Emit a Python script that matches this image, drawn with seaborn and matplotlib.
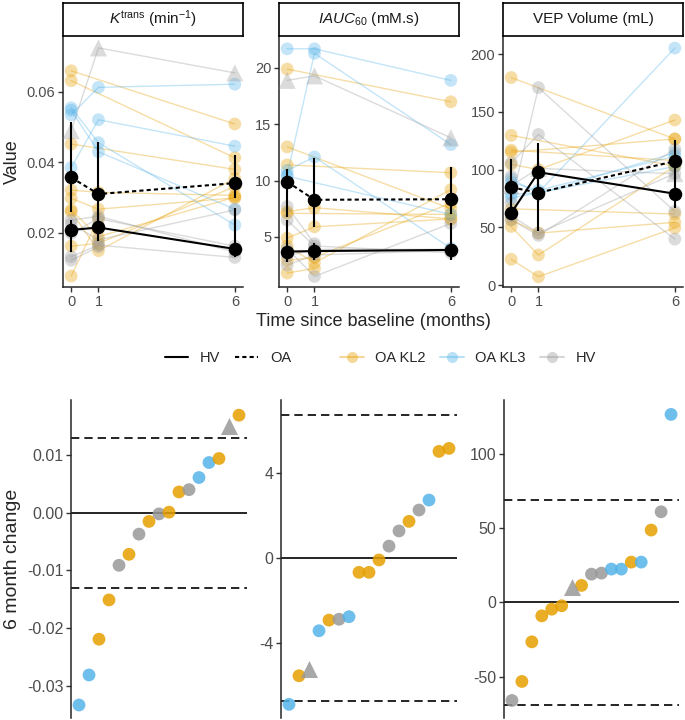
import numpy as np
import pandas as pd
import matplotlib
matplotlib.use("Agg")
import matplotlib.pyplot as plt
from matplotlib.lines import Line2D
import seaborn as sns

nan = np.nan

# ---- subjects (top panels) ----
subj_group = ['OA KL2'] * 9 + ['OA KL3'] * 4 + ['HV'] * 6
subj_shape = ['circle'] * 18 + ['triangle']

ktrans_t0 = [0.066, 0.0632, 0.0452, 0.0321, 0.0298, 0.0265, 0.0260, 0.0162, 0.0077,
             0.0535, 0.0385, 0.0555, 0.0548,
             0.0236, 0.0199, 0.0132, 0.0225, 0.0122, 0.0490]
ktrans_t1 = [nan, nan, nan, 0.0315, 0.0267, 0.0189, 0.0149, 0.0170, 0.0240,
             0.0613, 0.0521, 0.0456, 0.0430,
             0.0247, 0.0240, 0.0165, 0.0180, 0.0160, 0.0725]
ktrans_t6 = [0.0509, 0.0413, 0.0380, 0.0306, 0.0299, 0.0301, 0.0354, 0.0331, nan,
             0.0622, 0.0446, 0.0222, 0.0267,
             0.0145, 0.0162, 0.0130, 0.0265, nan, 0.0654]

iauc_t0 = [19.9, 13.0, 11.4, 7.25, 7.1, 4.9, 4.2, 2.9, 1.8,
           21.7, 10.5, 10.9, 10.4,
           6.5, 3.3, 2.5, 3.95, 7.7, 18.9]
iauc_t1 = [nan, nan, nan, 7.6, nan, 5.9, 2.7, 3.2, 2.2,
           21.7, 21.3, 12.1, nan,
           4.2, 3.9, 3.4, 1.5, 4.4, 19.3]
iauc_t6 = [17.0, 7.5, 10.7, 6.6, 7.0, 6.6, 9.2, 8.0, nan,
           18.9, 13.2, 4.0, 7.0,
           3.6, 3.9, 3.8, 6.2, nan, 13.8]

vep_t0 = [179.7, 129.6, 115.0, 116.8, 66.0, 56.5, 22.3, 104.5, 50.7,
          78.5, 92.0, 89.0, 75.4,
          105.8, 71.0, 60.0, 56.5, 94.2, 86.0]
vep_t1 = [nan, nan, nan, nan, nan, 45.0, 7.2, 100.0, 26.0,
          80.0, 79.0, 82.0, nan,
          130.4, 171.0, 45.0, 43.0, nan, 101.0]
vep_t6 = [126.5, 103.1, 126.5, 107.8, 61.5, 54.3, 49.5, 142.9, 102.9,
          205.2, 114.5, 111.6, 102.6,
          39.8, 63.7, 96.5, 117.6, nan, 96.4]

# ---- group summaries (black) ----
times = [0, 1, 6]
ktrans_hv = [0.0208, 0.0215, 0.0154]
ktrans_hv_lo = [0.0145, 0.0178, 0.0130]
ktrans_hv_hi = [0.0235, 0.0260, 0.0270]
ktrans_oa = [0.0357, 0.0310, 0.0341]
ktrans_oa_lo = [0.0260, 0.0210, 0.0300]
ktrans_oa_hi = [0.0514, 0.0457, 0.0422]

iauc_hv = [3.7, 3.75, 3.85]
iauc_hv_lo = [2.8, 3.0, 3.0]
iauc_hv_hi = [6.5, 4.5, 6.2]
iauc_oa = [9.9, 8.3, 8.35]
iauc_oa_lo = [6.8, 5.9, 7.0]
iauc_oa_hi = [11.0, 12.0, 11.2]

vep_hv = [62.3, 97.7, 79.1]
vep_hv_lo = [57.0, 72.0, 66.7]
vep_hv_hi = [80.0, 122.6, 95.0]
vep_oa = [84.6, 80.0, 107.2]
vep_oa_lo = [72.0, 46.4, 92.0]
vep_oa_hi = [109.3, 95.0, 125.5]

# ---- 6 month change (bottom panels), sorted ----
ktrans_change = [-0.0333, -0.0281, -0.0219, -0.0151, -0.0091, -0.0072, -0.0037, -0.0015, -0.0002,
                 0.0001, 0.0036, 0.0040, 0.0061, 0.0087, 0.0094, 0.0151, 0.0169]
ktrans_change_group = ['OA KL3', 'OA KL3', 'OA KL2', 'OA KL2', 'HV', 'OA KL2', 'HV', 'OA KL2', 'HV',
                       'OA KL2', 'OA KL2', 'HV', 'OA KL3', 'OA KL3', 'OA KL2', 'HV', 'OA KL2']
ktrans_change_shape = ['circle'] * 15 + ['triangle', 'circle']

iauc_change = [-6.86, -5.52, -5.20, -3.41, -2.91, -2.87, -2.75, -0.67, -0.67,
               -0.09, 0.56, 1.27, 1.72, 2.25, 2.72, 5.00, 5.14]
iauc_change_group = ['OA KL3', 'OA KL2', 'HV', 'OA KL3', 'OA KL2', 'HV', 'OA KL3', 'OA KL2', 'OA KL2',
                     'OA KL2', 'HV', 'HV', 'OA KL2', 'HV', 'OA KL3', 'OA KL2', 'OA KL2']
iauc_change_shape = ['circle', 'circle', 'triangle'] + ['circle'] * 14

vep_change = [-66.0, -53.2, -26.5, -9.0, -4.5, -2.2, 10.4, 11.5, 19.1,
              19.8, 22.5, 22.5, 27.2, 27.2, 48.8, 61.1, 126.7]
vep_change_group = ['HV', 'OA KL2', 'OA KL2', 'OA KL2', 'OA KL2', 'OA KL2', 'HV', 'OA KL2', 'HV',
                    'HV', 'OA KL3', 'OA KL3', 'OA KL2', 'OA KL3', 'OA KL2', 'HV', 'OA KL3']
vep_change_shape = ['circle'] * 6 + ['triangle'] + ['circle'] * 10

change_limits = [0.013, 6.7, 69.0]

palette = {'OA KL2': '#E69F00', 'OA KL3': '#56B4E9', 'HV': '#999999'}
markers = {'circle': 'o', 'triangle': '^'}
marker_area = {'circle': 85, 'triangle': 150}

sns.set_style('white')
plt.rcParams['font.family'] = ['Liberation Sans', 'DejaVu Sans']
plt.rcParams['mathtext.fontset'] = 'custom'
plt.rcParams['mathtext.rm'] = 'Liberation Sans'
plt.rcParams['mathtext.it'] = 'Liberation Sans:italic'
plt.rcParams['axes.linewidth'] = 1.1

W, H = 685, 720
fig = plt.figure(figsize=(W / 100, H / 100), dpi=100)


def box(x0, x1, y0, y1):
    return [x0 / W, 1 - y1 / H, (x1 - x0) / W, (y1 - y0) / H]


def long_table(t0, t1, t6):
    df = pd.DataFrame({'subject': range(len(t0)), 'group': subj_group, 'shape': subj_shape,
                       0: t0, 1: t1, 6: t6})
    df = df.melt(id_vars=['subject', 'group', 'shape'], var_name='time', value_name='value')
    df['time'] = df['time'].astype(float)
    return df.dropna(subset=['value'])


def shaped_points(df, x, y, ax, alpha, zorder=3):
    # circles and triangles drawn separately so the triangle can be a bit larger
    for shp, sub in df.groupby('shape'):
        sns.scatterplot(data=sub, x=x, y=y, hue='group', palette=palette, marker=markers[shp],
                        s=marker_area[shp], alpha=alpha, linewidth=0, legend=False, ax=ax, zorder=zorder)


top_specs = [
    (63, 243, r'$K^{\mathrm{trans}}$ (min$^{-1}$)', (ktrans_t0, ktrans_t1, ktrans_t6),
     (ktrans_hv, ktrans_hv_lo, ktrans_hv_hi, ktrans_oa, ktrans_oa_lo, ktrans_oa_hi),
     (0.0046, 0.0756), [0.02, 0.04, 0.06], ['0.02', '0.04', '0.06']),
    (279, 459, r'$\mathit{IAUC}_{\mathrm{60}}$ (mM.s)', (iauc_t0, iauc_t1, iauc_t6),
     (iauc_hv, iauc_hv_lo, iauc_hv_hi, iauc_oa, iauc_oa_lo, iauc_oa_hi),
     (0.56, 22.75), [5, 10, 15, 20], ['5', '10', '15', '20']),
    (503, 683, 'VEP Volume (mL)', (vep_t0, vep_t1, vep_t6),
     (vep_hv, vep_hv_lo, vep_hv_hi, vep_oa, vep_oa_lo, vep_oa_hi),
     (-1.7, 214.8), [0, 50, 100, 150, 200], ['0', '50', '100', '150', '200']),
]

for i, (x0, x1, title, vals, summ, ylim, yt, ytl) in enumerate(top_specs):
    ax = fig.add_axes(box(x0, x1, 37, 287))
    df = long_table(*vals)
    sns.lineplot(data=df, x='time', y='value', hue='group', units='subject', estimator=None,
                 palette=palette, alpha=0.35, lw=1.0, legend=False, ax=ax)
    shaped_points(df, 'time', 'value', ax, alpha=0.35)
    hv, hv_lo, hv_hi, oa, oa_lo, oa_hi = summ
    mean_df = pd.DataFrame({'time': times * 2, 'value': hv + oa, 'grp': ['HV'] * 3 + ['OA'] * 3})
    sns.lineplot(data=mean_df, x='time', y='value', style='grp', dashes={'HV': '', 'OA': (2, 1.5)},
                 color='black', lw=1.5, legend=False, ax=ax, zorder=5)
    for m, lo, hi in [(hv, hv_lo, hv_hi), (oa, oa_lo, oa_hi)]:
        m = np.array(m)
        ax.errorbar(times, m, yerr=[m - np.array(lo), np.array(hi) - m], fmt='none',
                    ecolor='black', elinewidth=1.5, capsize=0, zorder=6)
    sns.scatterplot(data=mean_df, x='time', y='value', color='black', s=95, linewidth=0,
                    legend=False, ax=ax, zorder=7)
    ax.set_xlim(-0.3, 6.3)
    ax.set_ylim(*ylim)
    ax.set_xticks(times)
    ax.set_xticklabels(['0', '1', '6'])
    ax.set_yticks(yt)
    ax.set_yticklabels(ytl)
    ax.tick_params(axis='both', labelsize=10.5, labelcolor='#4D4D4D', length=3.5, width=1,
                   color='#333333', left=True, bottom=True, pad=2)
    sns.despine(ax=ax)
    ax.set_xlabel('')
    ax.set_ylabel('Value' if i == 0 else '', fontsize=13)
    # facet strip
    st = fig.add_axes(box(x0, x1, 3, 36))
    st.set_xticks([])
    st.set_yticks([])
    for s in st.spines.values():
        s.set_visible(True)
        s.set_linewidth(1.2)
        s.set_color('black')
    st.text(0.5, 0.5, title, ha='center', va='center', fontsize=11, color='#1A1A1A',
            transform=st.transAxes)

fig.text(373 / W, 1 - 322 / H, 'Time since baseline (months)', ha='center', va='center', fontsize=13)

# legends
h1 = [Line2D([], [], color='black', lw=1.5),
      Line2D([], [], color='black', lw=1.5, dashes=(2, 1.5))]
fig.legend(h1, ['HV', 'OA'], loc='center', bbox_to_anchor=(228 / W, 1 - 358 / H), ncol=2,
           frameon=False, fontsize=10.5, handlelength=1.6, columnspacing=1.0, handletextpad=0.8)
h2 = [Line2D([], [], color=palette[g], lw=1.5, alpha=0.4, marker='o', markersize=8, markeredgewidth=0)
      for g in ['OA KL2', 'OA KL3', 'HV']]
fig.legend(h2, ['OA KL2', 'OA KL3', 'HV'], loc='center', bbox_to_anchor=(468 / W, 1 - 358 / H), ncol=3,
           frameon=False, fontsize=10.5, handlelength=1.6, columnspacing=1.0, handletextpad=0.8)

# bottom panels
bottom_specs = [
    (71, 247, ktrans_change, ktrans_change_group, ktrans_change_shape, change_limits[0],
     (-0.03555, 0.01953), [-0.03, -0.02, -0.01, 0.0, 0.01], ['-0.03', '-0.02', '-0.01', '0.00', '0.01']),
    (281, 457, iauc_change, iauc_change_group, iauc_change_shape, change_limits[1],
     (-7.5, 7.41), [-4, 0, 4], ['-4', '0', '4']),
    (504, 679, vep_change, vep_change_group, vep_change_shape, change_limits[2],
     (-77.8, 136.4), [-50, 0, 50, 100], ['-50', '0', '50', '100']),
]

for i, (x0, x1, chg, grp, shp, lim, ylim, yt, ytl) in enumerate(bottom_specs):
    ax = fig.add_axes(box(x0, x1, 400, 718))
    cdf = pd.DataFrame({'rank': np.arange(1, len(chg) + 1), 'change': chg, 'group': grp, 'shape': shp})
    ax.axhline(0, color='black', lw=1.2, zorder=1)
    ax.axhline(lim, color='black', lw=1.2, dashes=(5, 3), zorder=1)
    ax.axhline(-lim, color='black', lw=1.2, dashes=(5, 3), zorder=1)
    shaped_points(cdf, 'rank', 'change', ax, alpha=0.85)
    ax.set_xlim(0.2, len(chg) + 0.8)
    ax.set_ylim(*ylim)
    ax.set_xticks([])
    ax.set_yticks(yt)
    ax.set_yticklabels(ytl)
    ax.tick_params(axis='y', labelsize=11.5, labelcolor='#4D4D4D', length=3.5, width=1,
                   color='#333333', left=True, pad=2)
    sns.despine(ax=ax, bottom=True)
    ax.set_xlabel('')
    ax.set_ylabel('6 month change' if i == 0 else '', fontsize=14)

fig.savefig('out.png', dpi=100)
